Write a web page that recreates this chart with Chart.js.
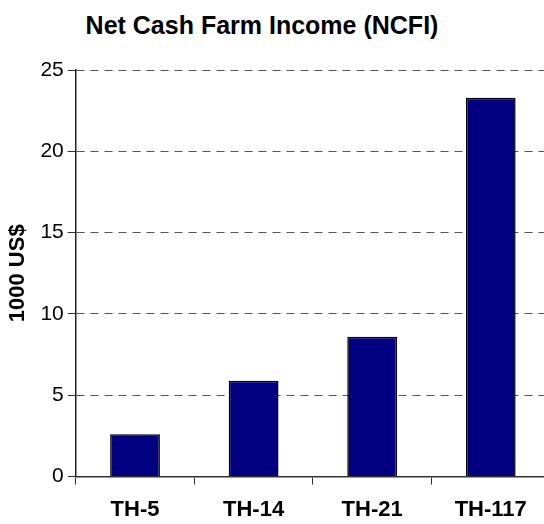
<!DOCTYPE html>
<html>
<head>
<meta charset="utf-8">
<title>Net Cash Farm Income (NCFI)</title>
<script src="https://cdn.jsdelivr.net/npm/chart.js@4/dist/chart.umd.min.js"></script>
<style>
  html, body { margin: 0; padding: 0; background: #fff; overflow: hidden; }
  body { width: 544px; height: 524px; position: relative; }
  #title {
    position: absolute; left: 0; width: 524px; top: 11px;
    text-align: center; font: bold 25px "Liberation Sans", Arial, sans-serif; color: #000;
  }
  /* the plot runs a little past the right and bottom edges, as in the reference */
  #wrap { position: absolute; left: 0; top: 0; width: 550px; height: 535px; }
</style>
</head>
<body>
<div id="title">Net Cash Farm Income (NCFI)</div>
<div id="wrap"><canvas id="ncfi-chart"></canvas></div>
<script>
// Values
const farms = ['TH-5', 'TH-14', 'TH-21', 'TH-117'];
const ncfi = [2.6, 5.9, 8.6, 23.3];
const yTicks = [0, 5, 10, 15, 20, 25];

const FONT = '"Liberation Sans", Arial, sans-serif';

const ctx = document.getElementById('ncfi-chart');

new Chart(ctx, {
    type: 'bar',
    data: {
        labels: farms,
        datasets: [{
            label: 'NCFI',
            data: ncfi,
            backgroundColor: '#000080',
            borderColor: '#000000',
            borderWidth: 1.5,
            barPercentage: 0.42,
            categoryPercentage: 1
        }]
    },
    options: {
        responsive: true,
        maintainAspectRatio: false,
        animation: false,
        layout: {
            padding: { top: 70, right: 0, bottom: 0, left: 5 }
        },
        plugins: {
            legend: { display: false },
            title: { display: false },
            tooltip: { enabled: false }
        },
        scales: {
            x: {
                grid: {
                    drawOnChartArea: false,
                    tickLength: 8,
                    tickColor: '#333333'
                },
                border: { color: '#333333', width: 1.5 },
                ticks: {
                    color: '#000',
                    padding: 12,
                    font: { family: FONT, size: 22, weight: 'bold' }
                }
            },
            y: {
                min: 0,
                max: 25,
                afterBuildTicks: scale => {
                    scale.ticks = yTicks.map(v => ({ value: v }));
                },
                title: {
                    display: true,
                    text: '1000 US$',
                    color: '#000',
                    padding: { top: 0, bottom: 5 },
                    font: { family: FONT, size: 22, weight: 'bold' }
                },
                grid: {
                    color: ctx => ctx.tick && ctx.tick.value === 0 ? 'rgba(0,0,0,0)' : '#555555',
                    lineWidth: 1,
                    tickLength: 8,
                    tickColor: '#333333'
                },
                border: { color: '#222222', width: 1.5, dash: [8, 6] },
                ticks: {
                    color: '#000',
                    padding: 4,
                    font: { family: FONT, size: 21 }
                }
            }
        }
    }
});
</script>
</body>
</html>
